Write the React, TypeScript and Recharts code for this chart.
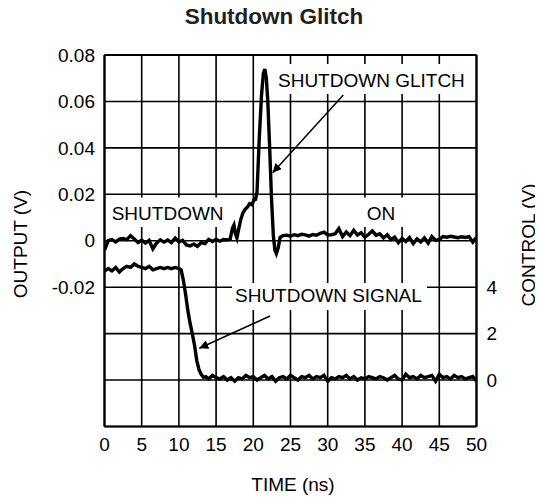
import { LineChart, Line, XAxis, YAxis, CartesianGrid, ReferenceLine } from 'recharts'

// output trace (V) vs time (ns)
const outTime = [
  0, 0.25, 0.5, 1, 1.5, 2, 2.5, 3, 3.5, 4, 4.5, 5, 5.5, 6, 6.5, 7, 7.5, 8, 8.5, 9, 9.5, 10,
  10.5, 11, 11.5, 12, 12.5, 13, 13.5, 14, 14.5, 15, 15.5, 16, 16.5, 16.9, 17.2, 17.4, 17.6, 17.8,
  18, 18.3, 18.6, 18.9, 19.2, 19.5, 19.8, 20.1, 20.3, 20.5, 20.8, 21.1, 21.35, 21.55, 21.75, 21.95,
  22.2, 22.45, 22.7, 22.9, 23.1, 23.35, 23.6, 24, 24.5, 25, 25.5, 26, 26.5, 27, 27.5, 28, 28.5, 29,
  29.5, 30, 30.5, 31, 31.5, 32, 32.5, 33, 33.5, 34, 34.5, 35, 35.5, 36, 36.5, 37, 37.5, 38, 38.5,
  39, 39.5, 40, 40.5, 41, 41.5, 42, 42.5, 43, 43.5, 44, 44.5, 45, 45.5, 46, 46.5, 47, 47.5, 48,
  48.5, 49, 49.5, 50,
]
const outVolts = [
  -0.004, -0.002, 0, 0.0005, -0.0005, 0.0007, 0.001, 0.0005, 0.0022, 0.0008, -0.0008, 0.0003, -0.001,
  0.0002, -0.0035, -0.001, 0.0004, -0.0006, 0.0003, -0.0008, 0.0012, -0.0005, 0.0002, -0.0018, -0.0022,
  -0.0015, -0.0024, -0.0008, -0.0012, 0.0006, -0.0003, 0.0006, -0.0002, 0.0005, 0.0003, 0.0008, 0.0055,
  0.0068, 0.003, 0.0012, 0.0045, 0.009, 0.012, 0.0135, 0.0145, 0.016, 0.0155, 0.0175, 0.0178, 0.021,
  0.044, 0.0625, 0.072, 0.074, 0.07, 0.06, 0.04, 0.018, 0.002, -0.004, -0.0055, -0.003, 0.0015, 0.0022,
  0.0024, 0.002, 0.0026, 0.0022, 0.0028, 0.0025, 0.002, 0.0027, 0.0024, 0.0032, 0.0037, 0.0025, 0.0026,
  0.003, 0.0052, 0.0018, 0.0038, 0.0022, 0.0045, 0.0025, 0.0035, 0.0015, 0.0028, 0.0042, 0.0024, 0.003,
  0.0012, 0.0026, 0.0005, 0.0016, -0.0008, 0.001, -0.0003, 0.0014, -0.0012, 0.0008, -0.0005, 0.0012,
  -0.001, 0.0018, 0.0002, 0.0006, 0.0018, 0.0015, 0.0019, 0.0016, 0.0013, 0.0017, 0.0014, 0.0018,
  -0.0006, 0.0015,
]

// control trace (V) vs time (ns)
const ctlTime = [
  0, 0.5, 1, 1.5, 2, 2.5, 3, 3.5, 4, 4.5, 5, 5.5, 6, 6.5, 7, 7.5, 8, 8.5, 9, 9.5, 10, 10.3, 10.6,
  10.9, 11.2, 11.5, 11.8, 12.1, 12.4, 12.7, 13, 13.3, 13.6, 14, 14.5, 15, 15.5, 16, 16.5, 17, 17.5,
  18, 18.5, 19, 19.5, 20, 20.5, 21, 21.5, 22, 22.5, 23, 23.5, 24, 24.5, 25, 25.5, 26, 26.5, 27, 27.5,
  28, 28.5, 29, 29.5, 30, 30.5, 31, 31.5, 32, 32.5, 33, 33.5, 34, 34.5, 35, 35.5, 36, 36.5, 37, 37.5,
  38, 38.5, 39, 39.5, 40, 40.5, 41, 41.5, 42, 42.5, 43, 43.5, 44, 44.5, 45, 45.5, 46, 46.5, 47, 47.5,
  48, 48.5, 49, 49.5, 50,
]
const ctlVolts = [
  4.7, 4.8, 4.7, 4.85, 4.65, 4.8, 4.9, 4.85, 5.0, 4.9, 4.85, 4.8, 4.9, 4.75, 4.8, 4.85, 4.8, 4.85, 4.8,
  4.85, 4.8, 4.75, 4.3, 3.7, 3.0, 2.45, 2.0, 1.5, 0.85, 0.45, 0.25, 0.12, 0.15, 0.05, 0.2, 0.1, 0.05,
  0.15, 0.0, 0.1, -0.05, 0.1, 0.05, 0.2, 0.1, 0.15, 0.0, 0.1, 0.2, 0.05, 0.15, -0.05, 0.1, 0.15, 0.05,
  0.2, 0.1, 0.0, 0.15, 0.1, 0.2, 0.05, 0.15, 0.1, 0.2, -0.05, 0.1, 0.05, 0.15, 0.1, 0.2, 0.05, 0.15,
  0.0, 0.1, 0.05, 0.15, 0.1, 0.05, 0.15, 0.1, 0.0, 0.1, 0.2, 0.05, 0.0, 0.25, 0.1, 0.15, 0.05, 0.2, 0.1,
  0.15, 0.2, -0.05, 0.25, 0.1, 0.15, 0.05, 0.2, 0.1, 0.15, 0.05, 0.1, 0.15, -0.05,
]

const timeTicks = [0, 5, 10, 15, 20, 25, 30, 35, 40, 45, 50]
const outputTicks = [-0.08, -0.06, -0.04, -0.02, 0, 0.02, 0.04, 0.06, 0.08]
const controlTicks = [0, 2, 4]

const outData = outTime.map((t, i) => ({ t, v: outVolts[i] }))
const ctlData = ctlTime.map((t, i) => ({ t, c: ctlVolts[i] }))

const FONT = '"Liberation Sans", Arial, Helvetica, sans-serif'
const W = 535
const H = 491
const tickStyle = { fill: '#000', fontSize: 19, fontFamily: FONT }

function fmtOutput(v: number) {
  if (v < -0.03) return ''
  if (Math.abs(v) < 1e-9) return '0'
  return v.toFixed(2)
}

function Annotations() {
  return (
    <svg
      width={W}
      height={H}
      style={{ position: 'absolute', left: 0, top: 0, pointerEvents: 'none', overflow: 'visible' }}
      fontFamily={FONT}
    >
      <defs>
        <marker id="arrow" viewBox="0 0 10 10" refX="10" refY="5" markerWidth="9" markerHeight="9" orient="auto" markerUnits="userSpaceOnUse">
          <path d="M0,0 L10,5 L0,10 z" fill="#000" />
        </marker>
      </defs>
      <text x={266} y={16} textAnchor="middle" fontSize={22.5} fontWeight="bold" fill="#231f20">
        Shutdown Glitch
      </text>
      <text x={12.5} y={236} transform="rotate(-90 12.5 236)" textAnchor="middle" dominantBaseline="central" fontSize={19} fill="#000">
        OUTPUT (V)
      </text>
      <text x={520.5} y={237} transform="rotate(-90 520.5 237)" textAnchor="middle" dominantBaseline="central" fontSize={19} fill="#000">
        CONTROL (V)
      </text>
      <text x={285} y={483} textAnchor="middle" fontSize={19} fill="#000">
        TIME (ns)
      </text>

      <rect x={98} y={189.5} width={120} height={29.5} fill="#fff" />
      <text x={103.7} y={212} fontSize={19} fill="#000">SHUTDOWN</text>

      <rect x={352} y={189.5} width={48} height={29.5} fill="#fff" />
      <text x={358.7} y={212} fontSize={19} fill="#000">ON</text>

      <rect x={266} y={56} width={196} height={30} fill="#fff" />
      <text x={270} y={79} fontSize={19} fill="#000">SHUTDOWN GLITCH</text>
      <line x1={335.3} y1={87} x2={264.7} y2={164.7} stroke="#000" strokeWidth={1.5} markerEnd="url(#arrow)" />

      <rect x={224} y={275} width={195} height={27} fill="#fff" />
      <text x={227} y={293.7} fontSize={19} fill="#000">SHUTDOWN SIGNAL</text>
      <line x1={262} y1={308} x2={191.3} y2={340.3} stroke="#000" strokeWidth={1.5} markerEnd="url(#arrow)" />
    </svg>
  )
}

export default function App() {
  return (
    <div style={{ position: 'relative', width: W, height: H, fontFamily: FONT }}>
      <LineChart width={W} height={H} margin={{ top: 47, right: 0, bottom: 0, left: 0 }}>
        <CartesianGrid yAxisId="left" stroke="#000" strokeWidth={1.6} strokeOpacity={1} />
        <XAxis
          type="number"
          dataKey="t"
          domain={[0, 50]}
          ticks={timeTicks}
          allowDataOverflow
          height={72.5}
          tickSize={0}
          tickMargin={11.5}
          tick={tickStyle}
          axisLine={{ stroke: '#000', strokeWidth: 2.2 }}
          tickLine={false}
        />
        <YAxis
          yAxisId="left"
          type="number"
          domain={[-0.08, 0.08]}
          ticks={outputTicks}
          tickFormatter={fmtOutput}
          allowDataOverflow
          width={96.5}
          tickSize={0}
          tickMargin={9.5}
          tick={tickStyle}
          axisLine={{ stroke: '#000', strokeWidth: 2.2 }}
          tickLine={false}
        />
        <YAxis
          yAxisId="right"
          orientation="right"
          type="number"
          domain={[-2, 14]}
          ticks={controlTicks}
          allowDataOverflow
          width={66.5}
          tickSize={0}
          tickMargin={10}
          tick={tickStyle}
          axisLine={{ stroke: '#000', strokeWidth: 2.2 }}
          tickLine={false}
        />
        <ReferenceLine yAxisId="left" y={0.08} stroke="#000" strokeWidth={2.2} />
        <Line
          yAxisId="left"
          data={outData}
          dataKey="v"
          type="linear"
          stroke="#000"
          strokeWidth={3.4}
          dot={false}
          isAnimationActive={false}
        />
        <Line
          yAxisId="right"
          data={ctlData}
          dataKey="c"
          type="linear"
          stroke="#000"
          strokeWidth={3.4}
          dot={false}
          isAnimationActive={false}
        />
      </LineChart>
      <Annotations />
    </div>
  )
}
